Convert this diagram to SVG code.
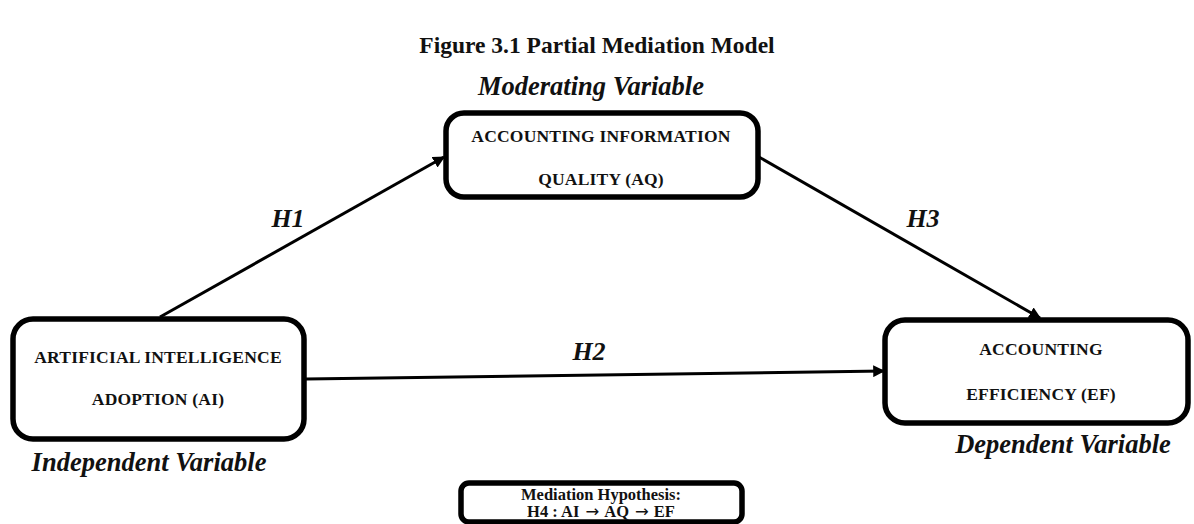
<svg xmlns="http://www.w3.org/2000/svg" width="1194" height="524" viewBox="0 0 1194 524">
<style>
.box{fill:#fff;stroke:#000;stroke-width:5.5}
.lbl{font-family:"Liberation Serif","Times New Roman",serif;font-weight:bold;font-size:17.5px;fill:#111;text-anchor:middle;letter-spacing:0.2px}
.var{font-family:"Liberation Serif","Times New Roman",serif;font-weight:bold;font-style:italic;font-size:26.5px;fill:#111;text-anchor:middle}
.h{font-family:"Liberation Serif","Times New Roman",serif;font-weight:bold;font-style:italic;font-size:26px;fill:#111;text-anchor:middle}
.med{font-family:"Liberation Serif","Times New Roman",serif;font-weight:bold;font-size:16.5px;fill:#111;text-anchor:middle}
.arr{font-family:"DejaVu Sans",sans-serif;font-weight:normal}
.conn{stroke:#000;stroke-width:3;fill:none;marker-end:url(#ah)}
</style>
<defs>
<marker id="ah" viewBox="0 0 10 10" refX="9" refY="5" markerWidth="4" markerHeight="4" orient="auto" markerUnits="strokeWidth">
<path d="M0,0 L10,5 L0,10 z" fill="#000"/>
</marker>
</defs>
<rect width="1194" height="524" fill="#fff"/>
<text x="597" y="53" font-family="Liberation Serif,Times New Roman,serif" font-weight="bold" font-size="23.5" text-anchor="middle" fill="#111">Figure 3.1 Partial Mediation Model</text>
<g id="connectors">
<line class="conn" x1="160" y1="317" x2="444" y2="157"/>
<line class="conn" x1="759" y1="157" x2="1040" y2="318"/>
<line class="conn" x1="306" y1="379" x2="884" y2="371"/>
<text class="h" x="288" y="227">H1</text>
<text class="h" x="923" y="227">H3</text>
<text class="h" x="589" y="360">H2</text>
</g>
<g id="node-aq">
<rect class="box" x="446" y="113" width="312" height="84" rx="18"/>
<text class="lbl" x="601" y="142">ACCOUNTING  INFORMATION</text>
<text class="lbl" x="601" y="185">QUALITY  (AQ)</text>
<text class="var" x="591" y="95">Moderating Variable</text>
</g>
<g id="node-ai">
<rect class="box" x="13" y="319" width="291" height="120" rx="20"/>
<text class="lbl" x="158" y="363">ARTIFICIAL  INTELLIGENCE</text>
<text class="lbl" x="158" y="405">ADOPTION  (AI)</text>
<text class="var" x="149" y="471">Independent Variable</text>
</g>
<g id="node-ef">
<rect class="box" x="885" y="320" width="303" height="103" rx="20"/>
<text class="lbl" x="1041" y="355">ACCOUNTING</text>
<text class="lbl" x="1041" y="400">EFFICIENCY  (EF)</text>
<text class="var" x="1063" y="453">Dependent Variable</text>
</g>
<g id="node-h4">
<rect class="box" x="461" y="483" width="281" height="39" rx="8"/>
<text class="med" x="601" y="500">Mediation Hypothesis:</text>
<text class="med" x="601" y="517">H4 : AI <tspan class="arr" dx="2">→</tspan><tspan dx="5">AQ</tspan><tspan class="arr" dx="6">→</tspan><tspan dx="5">EF</tspan></text>
</g>
</svg>
